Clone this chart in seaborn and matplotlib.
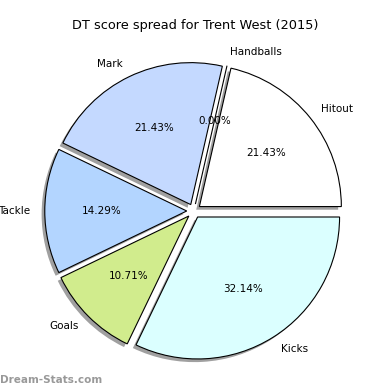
import matplotlib
matplotlib.use("Agg")
import matplotlib.pyplot as plt
import seaborn as sns

categories = ["Hitout", "Handballs", "Mark", "Tackle", "Goals", "Kicks"]
points = [6, 0, 6, 4, 3, 9]
colours = ["#ffffff", "#ffe0a0", "#c4d9ff", "#b3d5ff", "#d1ec8d", "#dbffff"]

sns.set_style("white")
plt.rcParams['font.family'] = ['DejaVu Sans']
plt.rcParams['text.color'] = 'black'

fig = plt.figure(figsize=(3.9, 3.9), dpi=100)
ax = fig.add_axes([0.042, 0.004, 0.91, 0.91])

ax.pie(points, labels=categories, colors=sns.color_palette(colours),
       autopct='%1.2f%%', startangle=0, explode=[0.05] * len(points),
       shadow={'ox': -0.016, 'oy': -0.016, 'facecolor': '#888888',
               'alpha': 0.8, 'edgecolor': 'none'},
       wedgeprops={'edgecolor': 'black', 'linewidth': 0.8},
       textprops={'fontsize': 7.5, 'color': 'black'})
ax.set_aspect('equal')

fig.text(0.5, 0.935, 'DT score spread for Trent West (2015)', ha='center',
         va='center', fontsize=9.3, color='black')
fig.text(0.0, 0.025, 'Dream-Stats.com', ha='left', va='center',
         fontsize=7.5, color='#999999', fontweight='bold')

fig.savefig('out.png', dpi=100)
